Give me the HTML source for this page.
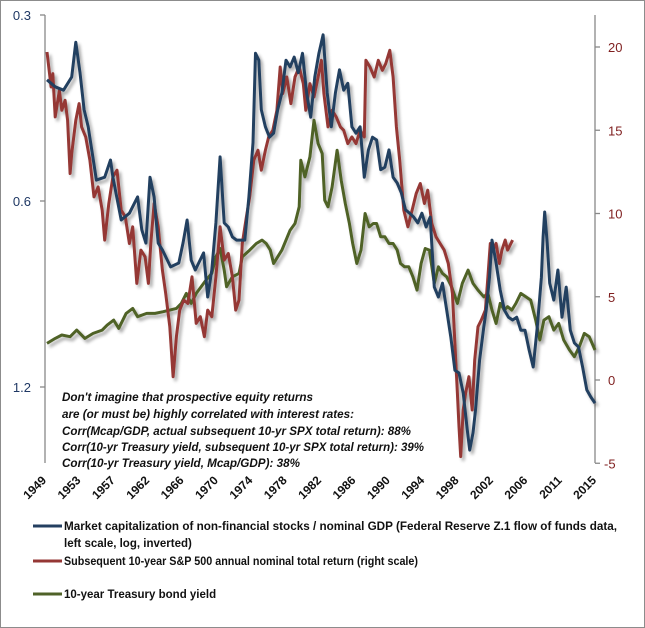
<!DOCTYPE html>
<html><head><meta charset="utf-8"><style>
html,body{margin:0;padding:0;background:#fff}
svg{display:block;font-family:"Liberation Sans",sans-serif}
</style></head><body>
<svg width="645" height="628" viewBox="0 0 645 628" xmlns="http://www.w3.org/2000/svg">
<defs><filter id="sh" x="-5%" y="-5%" width="110%" height="110%"><feGaussianBlur in="SourceAlpha" stdDeviation="1.5"/><feOffset dx="2.5" dy="3" result="b"/><feComponentTransfer><feFuncA type="linear" slope="0.35"/></feComponentTransfer><feMerge><feMergeNode/><feMergeNode in="SourceGraphic"/></feMerge></filter></defs>
<rect x="0.5" y="0.5" width="644" height="627" fill="#fff" stroke="#8c8c8c"/>
<g id="axes"></g>
<g id="series" filter="url(#sh)"></g>
<g font-style="italic" font-weight="bold" font-size="11.5" fill="#111">
<text x="62" y="401" textLength="251" lengthAdjust="spacingAndGlyphs">Don't imagine  that prospective  equity returns</text>
<text x="62" y="418" textLength="292" lengthAdjust="spacingAndGlyphs">are (or must be) highly correlated with interest rates:</text>
<text x="62" y="435" textLength="349" lengthAdjust="spacingAndGlyphs">Corr(Mcap/GDP, actual subsequent  10-yr SPX total return): 88%</text>
<text x="62" y="451" textLength="362" lengthAdjust="spacingAndGlyphs">Corr(10-yr Treasury yield, subsequent 10-yr SPX total return): 39%</text>
<text x="62" y="467" textLength="238" lengthAdjust="spacingAndGlyphs">Corr(10-yr Treasury yield, Mcap/GDP):  38%</text>
</g>
<g font-weight="bold" font-size="11.5" fill="#111">
<g><line x1="33" y1="526" x2="62" y2="526" stroke="#243f60" stroke-width="3"/>
<text x="64" y="530" textLength="553" lengthAdjust="spacingAndGlyphs">Market capitalization of non-financial stocks / nominal GDP (Federal Reserve Z.1 flow of funds data,</text>
<text x="64" y="547">left scale, log, inverted)</text></g>
<g><line x1="33" y1="561" x2="62" y2="561" stroke="#953735" stroke-width="3"/>
<text x="64" y="565" textLength="354" lengthAdjust="spacingAndGlyphs">Subsequent 10-year S&amp;P 500 annual nominal total return (right scale)</text></g>
<g><line x1="33" y1="594" x2="62" y2="594" stroke="#4f6228" stroke-width="3"/>
<text x="64" y="598">10-year Treasury bond yield</text></g>
</g>
</svg>
<script>
const blueT=[1949,1950,1951,1952,1952.5,1953,1953.5,1954,1955,1956,1956.7,1957,1958,1959,1960,1960.5,1961,1961.5,1962,1962.5,1963,1964,1965,1965.5,1966,1966.5,1967,1968,1968.5,1969,1969.5,1970,1970.5,1971,1971.5,1972,1972.5,1973,1973.5,1974,1974.3,1974.7,1975,1975.5,1976,1976.5,1977,1977.5,1978,1978.5,1979,1979.5,1980,1980.5,1981,1981.5,1982,1982.5,1983,1983.5,1984,1984.5,1985,1985.5,1986,1986.5,1987,1987.5,1988,1988.5,1989,1989.5,1990,1990.5,1991,1991.5,1992,1992.5,1993,1993.5,1994,1994.5,1995,1995.5,1996,1996.5,1997,1997.5,1998,1998.5,1999,1999.5,2000,2000.3,2000.7,2001,2001.5,2002,2002.3,2002.7,2003,2003.5,2004,2004.5,2005,2005.5,2006,2006.5,2007,2007.5,2008,2008.5,2009,2009.2,2009.4,2009.7,2010,2010.5,2011,2011.5,2012,2012.5,2013,2013.5,2014,2014.5,2015,2015.5];
const blueV=[.382,.392,.397,.378,.332,.372,.427,.455,.555,.549,.515,.549,.644,.628,.591,.668,.702,.549,.591,.702,.720,.767,.756,.702,.644,.748,.776,.728,.858,.776,.651,.509,.651,.661,.686,.694,.694,.694,.591,.483,.346,.355,.427,.455,.473,.466,.427,.401,.355,.364,.351,.372,.346,.401,.439,.378,.346,.323,.401,.455,.401,.368,.397,.387,.455,.466,.455,.549,.496,.473,.478,.534,.529,.496,.549,.561,.582,.620,.628,.637,.651,.628,.661,.637,.827,.858,.815,.901,.996,1.127,1.139,1.227,1.409,1.518,1.424,1.308,1.085,.959,.901,.797,.694,.756,.836,.901,.925,.935,.925,.971,.971,1.045,1.114,.959,.797,.686,.625,.702,.815,.868,.776,.925,.827,.971,1.018,1.034,1.114,1.213,1.246,1.274];
const redT=[1949.0,1949.5,1949.7,1950.0,1950.5,1950.8,1951.2,1951.5,1951.8,1952.0,1952.5,1952.9,1953.2,1953.7,1954.2,1954.7,1955.2,1955.7,1956.0,1956.5,1957.0,1957.5,1958.0,1958.5,1959.0,1959.4,1959.9,1960.4,1960.9,1961.3,1961.6,1962.0,1962.5,1963.0,1963.4,1963.9,1964.3,1964.7,1965.1,1965.6,1966.1,1966.6,1967.1,1967.6,1968.1,1968.5,1969.0,1969.5,1970.0,1970.5,1971.0,1971.5,1971.9,1972.3,1972.7,1973.2,1973.6,1974.1,1974.6,1975.0,1975.5,1975.9,1976.4,1976.9,1977.3,1977.6,1978.1,1978.6,1979.1,1979.6,1980.1,1980.4,1980.9,1981.4,1981.9,1982.3,1982.6,1983.1,1983.6,1984.1,1984.6,1985.0,1985.5,1986.0,1986.5,1987.0,1987.5,1987.7,1988.2,1988.7,1989.2,1989.7,1990.1,1990.6,1991.0,1991.4,1991.8,1992.3,1992.8,1993.3,1993.8,1994.3,1994.8,1995.2,1995.7,1996.2,1996.7,1997.2,1997.7,1998.2,1998.5,1998.8,1999.0,1999.2,1999.5,1999.8,2000.2,2000.6,2000.9,2001.3,2001.7,2002.2,2002.5,2002.8,2003.1,2003.5,2003.9,2004.2,2004.6,2004.9,2005.3,2005.5];
const redV=[19.7,17.6,18.4,15.8,17.4,16.2,16.8,15.6,12.4,13.6,15.6,16.6,15.2,14.6,13.2,11.0,11.6,10.2,8.4,10.6,12.2,12.6,10.2,9.8,8.2,9.2,5.8,7.8,7.4,5.8,8.2,10.6,9.2,6.6,5.2,3.2,0.2,2.6,4.2,4.8,4.6,6.2,3.4,3.8,2.6,4.2,3.8,6.2,9.2,7.2,7.6,6.2,4.2,4.8,8.2,9.8,11.0,13.2,13.8,12.6,13.8,14.6,15.0,16.2,18.8,17.2,18.2,16.6,18.2,18.8,17.8,16.2,17.8,17.0,18.2,19.2,17.2,15.2,16.2,15.8,15.2,15.0,14.2,14.6,14.2,15.0,14.6,19.2,18.8,18.2,19.2,18.6,19.0,19.8,18.2,15.2,13.2,10.2,9.2,10.2,11.2,11.8,10.6,11.4,9.4,8.6,8.2,7.8,7.0,5.2,2.2,-0.8,-2.8,-4.6,-1.8,-0.8,0.2,-1.8,1.2,3.2,3.6,4.2,6.2,8.2,7.8,8.2,7.0,7.8,8.4,7.8,8.2,8.4];
const greenT=[1949.0,1950.0,1950.8,1951.8,1952.6,1953.6,1954.6,1955.7,1956.3,1957.1,1957.7,1958.6,1959.4,1960.0,1961.1,1962.1,1963.1,1963.9,1964.7,1965.3,1965.9,1966.5,1967.1,1967.7,1968.3,1969.0,1969.5,1970.0,1970.5,1970.8,1971.5,1972.3,1972.7,1973.6,1974.4,1975.1,1975.6,1976.1,1976.5,1977.0,1977.5,1978.5,1979.1,1979.6,1979.8,1980.3,1980.9,1981.4,1981.9,1982.4,1982.7,1983.1,1983.6,1984.2,1984.7,1985.2,1985.7,1986.1,1986.6,1987.1,1987.6,1988.1,1988.6,1989.0,1989.5,1990.0,1990.5,1991.0,1991.5,1991.9,1992.4,1992.9,1993.4,1993.9,1994.4,1994.9,1995.4,1996.0,1996.5,1997.0,1997.5,1998.1,1998.8,1999.4,2000.1,2000.7,2001.3,2002.0,2002.5,2003.0,2003.5,2004.0,2004.5,2004.9,2005.4,2005.9,2006.5,2007.1,2007.7,2008.3,2008.8,2009.3,2009.9,2010.5,2011.1,2011.7,2012.4,2013.0,2013.6,2014.2,2014.8,2015.5];
const greenV=[2.2,2.5,2.7,2.6,3.0,2.5,2.8,3.0,3.3,3.6,3.1,4.0,4.3,3.8,4.0,4.0,4.1,4.2,4.3,4.6,5.2,4.6,5.2,5.6,6.0,6.4,7.4,7.9,6.6,5.6,6.2,6.4,7.4,7.8,8.2,8.4,8.2,7.8,7.0,7.4,7.8,9.0,9.4,10.4,13.2,12.2,13.4,15.6,14.2,13.6,10.8,10.4,11.6,13.8,12.0,10.6,9.4,8.2,7.0,7.8,10.0,9.2,9.4,9.4,8.6,8.6,8.2,8.2,7.8,7.0,6.8,6.8,6.2,5.4,7.0,7.9,7.8,5.8,6.8,6.4,6.2,5.6,4.6,5.8,6.6,5.8,5.4,5.0,5.2,4.2,3.4,4.6,4.2,4.4,4.2,4.6,5.2,5.0,4.8,3.6,2.4,3.6,3.8,3.0,3.4,2.4,1.8,1.4,2.0,2.8,2.6,1.8];
const leftTicks=[0.3,0.6,1.2];
const rightTicks=[20,15,10,5,0,-5];
const yearLabels=["1949","1953","1957","1962","1966","1970","1974","1978","1982","1986","1990","1994","1998","2002","2006","2011","2015"];

const NS="http://www.w3.org/2000/svg";
const X0=47,X1=595,T0=1949,T1=2015.5;
const xs=t=>X0+(t-T0)/(T1-T0)*(X1-X0);
const yl=v=>15+Math.log2(v/0.3)*186;
const yr=v=>380-v*16.65;
function mk(tag,attrs,parent){const e=document.createElementNS(NS,tag);for(const k in attrs)e.setAttribute(k,attrs[k]);parent.appendChild(e);return e;}
const axes=document.getElementById('axes'),ser=document.getElementById('series');

let la=mk('line',{x1:45,y1:15,x2:45,y2:463,stroke:'#888','stroke-width':1.3},axes);


leftTicks.forEach(v=>{
  const y=yl(v);
  const tk=mk('line',{x1:40,y1:y,x2:45,y2:y,stroke:'#888','stroke-width':1.3},axes);
  
  
  const tx=mk('text',{x:31,y:y+5,'text-anchor':'end','font-size':13,fill:'#1f3864'},axes);
  tx.textContent=v.toFixed(1);
  
  
});
let ra=mk('line',{x1:595,y1:15,x2:595,y2:463,stroke:'#888','stroke-width':1.3},axes);


rightTicks.forEach(v=>{
  const y=yr(v);
  const tk=mk('line',{x1:595,y1:y,x2:600,y2:y,stroke:'#888','stroke-width':1.3},axes);
  
  
  const tx=mk('text',{x:v<0?604:608,y:y+5,'font-size':13,fill:'#7f1f1f'},axes);
  tx.textContent=String(v);
  
  
});
yearLabels.forEach((s,i)=>{
  const x=47+i*(550/(yearLabels.length-1)), y=481;
  const tx=mk('text',{x:x,y:y,'text-anchor':'end','font-size':12,'font-weight':'bold',fill:'#111',transform:`rotate(-45 ${x} ${y})`},axes);
  tx.textContent=s;
  
  
});
function line(T,V,fy,color,name){
  const d=T.map((t,i)=>(i?'L':'M')+xs(t).toFixed(1)+' '+fy(V[i]).toFixed(1)).join(' ');
  const p=mk('path',{d:d,fill:'none',stroke:color,'stroke-width':3,'stroke-linejoin':'round'},ser);
  
  
}
line(greenT,greenV,yr,'#4f6228','treasury-yield-line');
line(redT,redV,yr,'#953735','subsequent-return-line');
line(blueT,blueV,yl,'#243f60','mcap-gdp-line');
</script>
</body></html>
